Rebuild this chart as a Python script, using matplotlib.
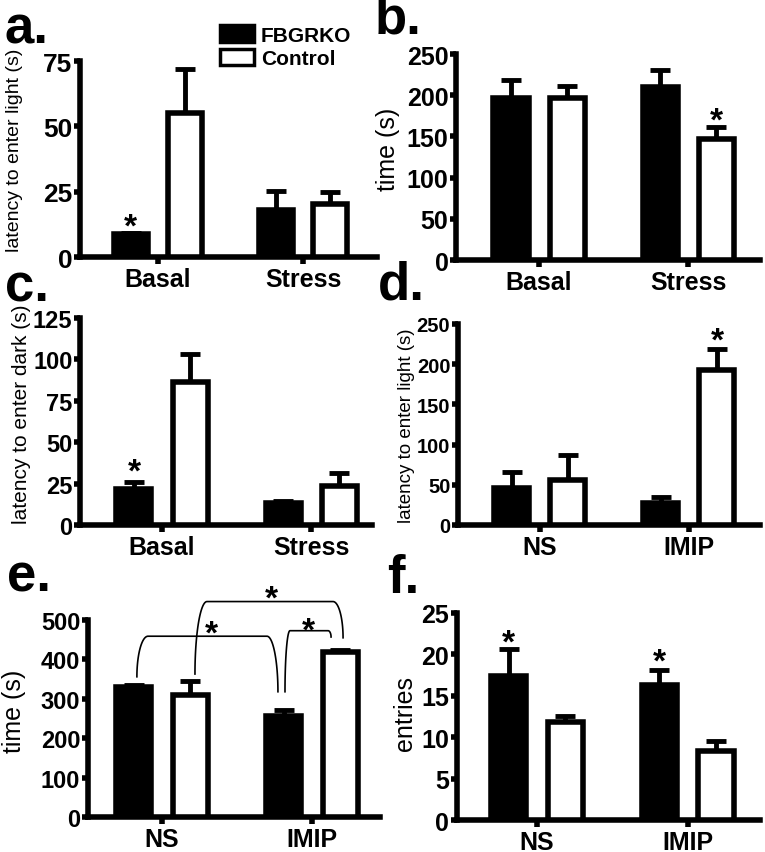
import numpy as np
import matplotlib
matplotlib.use('Agg')
import matplotlib.pyplot as plt
from matplotlib.patches import Patch

plt.rcParams['font.family'] = ['Liberation Sans', 'DejaVu Sans']
plt.rcParams['font.weight'] = 'bold'

# 그룹 이름
groups_stress = ['Basal', 'Stress']
groups_drug = ['NS', 'IMIP']
series_names = ['FBGRKO', 'Control']

# a. latency to enter light
a_ko = [8.8, 18.0]
a_ko_err = [0.4, 7.3]
a_ctrl = [55.0, 20.3]
a_ctrl_err = [17.0, 4.6]

# b. time
b_ko = [197.0, 210.0]
b_ko_err = [22.0, 20.0]
b_ctrl = [197.0, 147.0]
b_ctrl_err = [14.0, 14.5]

# c. latency to enter dark
c_ko = [22.0, 13.3]
c_ko_err = [3.8, 1.4]
c_ctrl = [86.5, 23.4]
c_ctrl_err = [16.5, 8.0]

# d. latency to enter light (NS / IMIP)
d_ko = [45.6, 27.4]
d_ko_err = [20.4, 7.6]
d_ctrl = [56.0, 193.0]
d_ctrl_err = [31.0, 26.0]

# e. time (NS / IMIP)
e_ko = [330.0, 257.0]
e_ko_err = [4.0, 14.6]
e_ctrl = [310.0, 418.0]
e_ctrl_err = [36.0, 6.0]

# f. entries
f_ko = [17.4, 16.3]
f_ko_err = [3.2, 1.8]
f_ctrl = [11.8, 8.3]
f_ctrl_err = [0.8, 1.2]

BAR_W = 0.235
OFF = 0.188
LW = 4.0


def draw_panel(ax, cats, ko, ko_err, ctrl, ctrl_err, ymax, ystep, xlim, ysize=18, xsize=18):
    x = np.arange(len(cats))
    ax.bar(x - OFF, ko, BAR_W, color='black', edgecolor='black', linewidth=LW, zorder=3)
    ax.bar(x + OFF, ctrl, BAR_W, color='white', edgecolor='black', linewidth=LW, zorder=3)
    # 위쪽 에러바만
    ax.errorbar(x - OFF, ko, yerr=[np.zeros(len(ko)), ko_err], fmt='none', ecolor='black',
                elinewidth=3.5, capsize=7, capthick=3.5, zorder=2)
    ax.errorbar(x + OFF, ctrl, yerr=[np.zeros(len(ctrl)), ctrl_err], fmt='none', ecolor='black',
                elinewidth=3.5, capsize=7, capthick=3.5, zorder=2)
    ax.set_xlim(*xlim)
    ax.set_ylim(0, ymax)
    ax.set_yticks(np.arange(0, ymax + 1, ystep))
    ax.set_xticks(x)
    ax.set_xticklabels(cats)
    for s in ['top', 'right']:
        ax.spines[s].set_visible(False)
    for s in ['left', 'bottom']:
        ax.spines[s].set_linewidth(LW)
    ax.tick_params(axis='y', length=4.5, width=LW, pad=1, labelsize=ysize)
    ax.tick_params(axis='x', length=5, width=LW, pad=2, labelsize=xsize)


def star(ax, x, y):
    ax.annotate('*', (x, y), xytext=(0, -7), textcoords='offset points', ha='center',
                va='center', fontsize=24, fontweight='bold', annotation_clip=False)


def bracket(ax, x0, y0, xa, ytop, xb, x1, y1):
    t = np.linspace(0, np.pi / 2, 30)
    lx = xa - (xa - x0) * np.cos(t)
    ly = y0 + (ytop - y0) * np.sin(t)
    rx = xb + (x1 - xb) * np.sin(t)
    ry = y1 + (ytop - y1) * np.cos(t)
    ax.plot(np.concatenate([lx, rx]), np.concatenate([ly, ry]), color='black', lw=1.2,
            clip_on=False)


def ylab(ax, text, size, xpos, ypos):
    ax.set_ylabel(text, fontsize=size)
    ax.yaxis.label.set_va('center')
    ax.yaxis.set_label_coords(xpos, ypos)


fig = plt.figure(figsize=(7.65, 8.53), dpi=100)

ax_a = fig.add_axes([0.1046, 0.6975, 0.3882, 0.2298])
ax_b = fig.add_axes([0.5961, 0.6940, 0.3974, 0.2415])
ax_c = fig.add_axes([0.1046, 0.3834, 0.3817, 0.2427])
ax_d = fig.add_axes([0.5987, 0.3834, 0.3948, 0.2356])
ax_e = fig.add_axes([0.1150, 0.0410, 0.3817, 0.2309])
ax_f = fig.add_axes([0.5974, 0.0375, 0.3961, 0.2427])

draw_panel(ax_a, groups_stress, a_ko, a_ko_err, a_ctrl, a_ctrl_err, 75, 25, (-0.538, 1.51), 19)
draw_panel(ax_b, groups_stress, b_ko, b_ko_err, b_ctrl, b_ctrl_err, 250, 50, (-0.557, 1.483), 18)
draw_panel(ax_c, groups_stress, c_ko, c_ko_err, c_ctrl, c_ctrl_err, 125, 25, (-0.55, 1.409), 17)
draw_panel(ax_d, groups_drug, d_ko, d_ko_err, d_ctrl, d_ctrl_err, 250, 50, (-0.55, 1.477), 14.5)
draw_panel(ax_e, groups_drug, e_ko, e_ko_err, e_ctrl, e_ctrl_err, 500, 100, (-0.493, 1.453), 17)
draw_panel(ax_f, groups_drug, f_ko, f_ko_err, f_ctrl, f_ctrl_err, 25, 5, (-0.53, 1.48), 18)

ylab(ax_a, 'latency to enter light (s)', 14, -0.22, 0.55)
ylab(ax_b, 'time (s)', 18, -0.225, 0.54)
ylab(ax_c, 'latency to enter dark (s)', 15, -0.2, 0.54)
ylab(ax_d, 'latency to enter light (s)', 13.5, -0.17, 0.5)
ylab(ax_e, 'time (s)', 18, -0.255, 0.54)
ylab(ax_f, 'entries', 18, -0.17, 0.52)

star(ax_a, -OFF, 15.3)
star(ax_b, 1 + OFF, 180)
star(ax_c, -OFF, 38)
star(ax_d, 1 + OFF, 241)
star(ax_f, -OFF, 22.6)
star(ax_f, 1 - OFF, 20.2)

# e 패널 비교 괄호
bracket(ax_e, -0.167, 356, -0.093, 459, 0.70, 0.773, 318)
bracket(ax_e, 0.22, 363, 0.30, 547, 1.14, 1.207, 455)
bracket(ax_e, 0.82, 318, 0.853, 473, 1.107, 1.127, 457)
star(ax_e, 0.331, 489)
star(ax_e, 0.731, 578)
star(ax_e, 0.975, 498)

# 범례
handles = [Patch(facecolor='black', edgecolor='black', linewidth=2.5),
           Patch(facecolor='white', edgecolor='black', linewidth=2.5)]
fig.legend(handles, series_names, loc='upper left', bbox_to_anchor=(0.2876, 0.9695),
           bbox_transform=fig.transFigure, frameon=False, fontsize=15, handlelength=1.65,
           handleheight=0.85, handletextpad=0.3, labelspacing=0.2, borderpad=0,
           borderaxespad=0)

# 패널 라벨
panel_pos = {'a.': (5, 43), 'b.': (375, 33), 'c.': (5, 302),
             'd.': (378, 300), 'e.': (7, 592), 'f.': (387, 593)}
for lab, (px, py) in panel_pos.items():
    fig.text(px / 765, 1 - py / 853, lab, fontsize=38, fontweight='bold',
             ha='left', va='baseline')

fig.savefig('out.png', dpi=100)
